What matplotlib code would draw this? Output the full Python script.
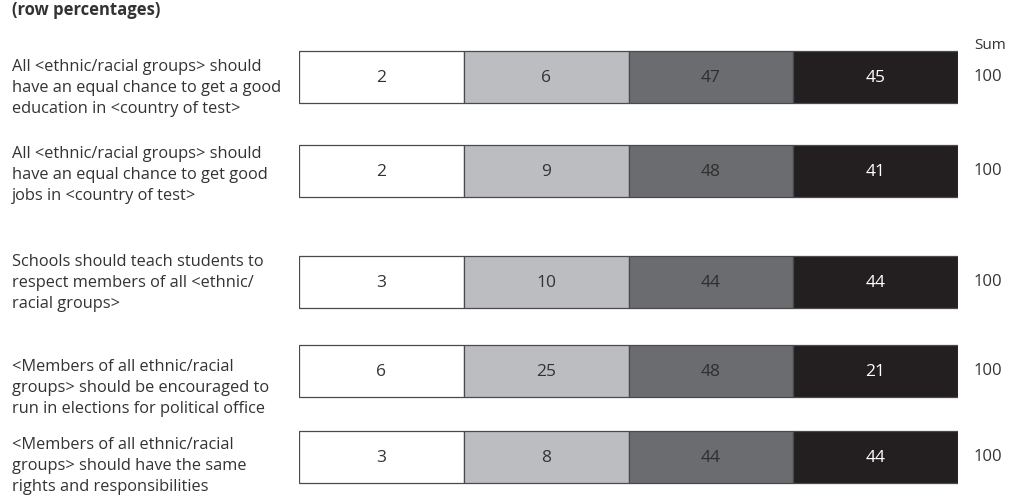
import matplotlib.pyplot as plt
import matplotlib.transforms as mtransforms

plt.rcParams['font.family'] = ['Open Sans', 'DejaVu Sans']

# statements (row labels)
statements = [
    "All <ethnic/racial groups> should\nhave an equal chance to get a good\neducation in <country of test>",
    "All <ethnic/racial groups> should\nhave an equal chance to get good\njobs in <country of test>",
    "Schools should teach students to\nrespect members of all <ethnic/\nracial groups>",
    "<Members of all ethnic/racial\ngroups> should be encouraged to\nrun in elections for political office",
    "<Members of all ethnic/racial\ngroups> should have the same\nrights and responsibilities",
]

# row percentages per response category
strongly_disagree = [2, 2, 3, 6, 3]
disagree = [6, 9, 10, 25, 8]
agree = [47, 48, 44, 48, 44]
strongly_agree = [45, 41, 44, 21, 44]
sums = [100, 100, 100, 100, 100]

# layout (pixel rows in a 498 px tall figure)
row_y = [77, 171, 282, 371, 457]
label_y = [88, 175, 283, 388, 466]
bar_h = 52

seg_colors = ['#ffffff', '#bcbdc0', '#6b6c70', '#231f20']
txt_colors = ['#333333', '#333333', '#2e2e2e', '#ffffff']

fig = plt.figure(figsize=(10.11, 4.98), dpi=100)
W, H = 1011, 498
ax = fig.add_axes([299 / W, 0, (958 - 299) / W, 1])
ax.set_xlim(0, 4)
ax.set_ylim(H, 0)
ax.axis('off')

series = [strongly_disagree, disagree, agree, strongly_agree]
for i, vals in enumerate(series):
    ax.barh(row_y, 1, left=i, height=bar_h, color=seg_colors[i],
            edgecolor='#4a4a4a', linewidth=0.9)
    for y, v in zip(row_y, vals):
        ax.text(i + 0.5, y + 1, str(v), ha='center', va='center',
                fontsize=12.5, color=txt_colors[i])

trans = mtransforms.blended_transform_factory(fig.transFigure, ax.transData)
for y, s in zip(label_y, statements):
    ax.text(12 / W, y, s, transform=trans, ha='left', va='center',
            fontsize=11.8, color='#333333', linespacing=1.4)
for y, s in zip(row_y, sums):
    ax.text(988 / W, y, str(s), transform=trans, ha='center', va='center',
            fontsize=12, color='#333333')

ax.text(990 / W, 45, "Sum", transform=trans, ha='center', va='center',
        fontsize=11, color='#333333')
ax.text(12 / W, 0.5, "(row percentages)", transform=trans, ha='left',
        va='top', fontsize=12, fontweight='bold', color='#333333')

fig.savefig("out.png", dpi=100)
